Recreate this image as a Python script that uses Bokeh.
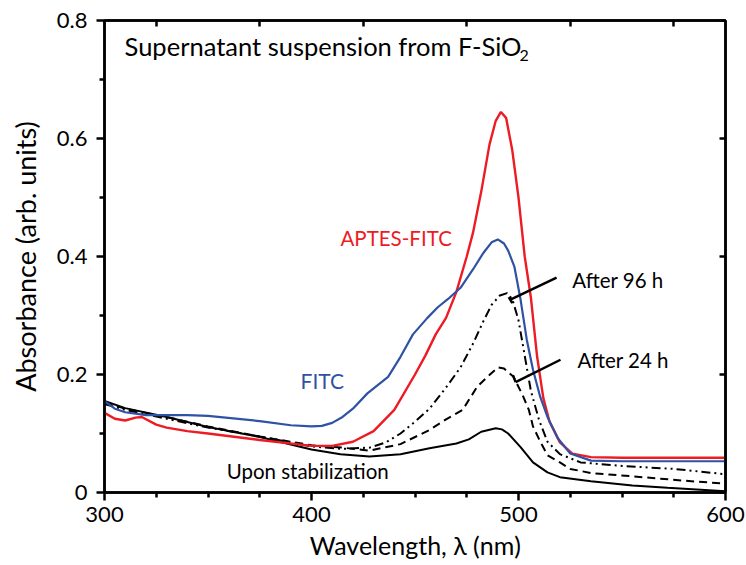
from bokeh.plotting import figure
from bokeh.models import FixedTicker, LinearAxis, Range1d
from bokeh.core.properties import value
from bokeh.embed import file_html
from bokeh.resources import INLINE

# ---------------- data ----------------
red_x = [300, 305, 310, 315, 318, 325, 330, 340, 350, 375, 400, 410, 420, 430, 440, 450,
         455, 460, 465, 470, 475, 478, 482, 486, 489, 491.5, 494, 497, 500, 503, 506,
         509, 512, 515, 520, 526, 535, 550, 575, 600]
red_y = [0.135, 0.125, 0.122, 0.127, 0.128, 0.115, 0.110, 0.104, 0.100, 0.089, 0.079,
         0.079, 0.086, 0.104, 0.140, 0.200, 0.232, 0.268, 0.296, 0.340, 0.400, 0.440,
         0.510, 0.590, 0.630, 0.645, 0.635, 0.580, 0.500, 0.400, 0.330, 0.230, 0.160,
         0.120, 0.085, 0.066, 0.060, 0.059, 0.059, 0.059]

blue_x = [300, 305, 310, 320, 340, 350, 375, 390, 400, 405, 410, 415, 420, 427, 437, 443,
          449, 456, 461, 466, 472, 478, 483, 487, 490, 493, 495, 498, 501, 502.5, 504,
          507, 510.5, 514, 519, 525, 535, 550, 575, 600]
blue_y = [0.155, 0.142, 0.136, 0.131, 0.131, 0.130, 0.121, 0.114, 0.112, 0.113, 0.118,
          0.128, 0.142, 0.168, 0.196, 0.230, 0.268, 0.296, 0.314, 0.328, 0.347, 0.378,
          0.406, 0.424, 0.429, 0.422, 0.410, 0.383, 0.327, 0.293, 0.259, 0.208, 0.162,
          0.128, 0.092, 0.066, 0.054, 0.053, 0.053, 0.053]

stab_x = [300, 310, 330, 350, 375, 400, 414, 428, 443, 457, 470, 476, 482, 489, 492, 495,
          501, 507, 514, 520, 535, 555, 572, 600]
stab_y = [0.155, 0.143, 0.128, 0.111, 0.094, 0.073, 0.065, 0.061, 0.065, 0.075, 0.083,
          0.090, 0.103, 0.109, 0.107, 0.100, 0.077, 0.051, 0.034, 0.026, 0.019, 0.012,
          0.008, 0.002]

h24_x = [300, 310, 330, 350, 375, 400, 415, 428, 443, 457, 465, 473, 480, 485, 490, 493,
         497.6, 502, 505, 507, 510, 514, 520, 525, 535, 560, 580, 600]
h24_y = [0.153, 0.142, 0.128, 0.112, 0.095, 0.080, 0.076, 0.071, 0.082, 0.106, 0.124,
         0.140, 0.179, 0.196, 0.212, 0.210, 0.196, 0.165, 0.140, 0.112, 0.090, 0.063,
         0.051, 0.040, 0.033, 0.026, 0.020, 0.015]

h96_x = [300, 310, 330, 350, 375, 400, 415, 428, 436, 443, 450, 457, 465, 472, 478, 483,
         487, 491, 494.5, 497, 500, 503, 506, 510, 514, 520, 530, 550, 575, 600]
h96_y = [0.150, 0.140, 0.125, 0.110, 0.095, 0.078, 0.074, 0.076, 0.085, 0.100, 0.120,
         0.142, 0.178, 0.212, 0.252, 0.290, 0.318, 0.334, 0.338, 0.328, 0.292, 0.232,
         0.172, 0.122, 0.086, 0.065, 0.051, 0.045, 0.040, 0.031]

x_major = [300, 400, 500, 600]
x_minor = [325, 350, 375, 425, 450, 475, 525, 550, 575]
x_top_ticks = [325, 375, 425, 475, 525, 575]
y_major = [0, 0.2, 0.4, 0.6, 0.8]
y_minor = [0.1, 0.3, 0.5, 0.7]
y_labels = ["0", "0.2", "0.4", "0.6", "0.8"]

RED = "#ED1C24"
BLUE = "#2F52A4"
FONT = "Lato"

p = figure(width=746, height=565, output_backend="svg", toolbar_location=None,
           x_range=Range1d(300, 600), y_range=Range1d(0, 0.8),
           min_border_left=104, min_border_right=21, min_border_top=20,
           min_border_bottom=73)
p.grid.visible = False
p.background_fill_color = "white"
p.border_fill_color = "white"
p.outline_line_color = "black"
p.outline_line_width = 2.5

xa = p.xaxis[0]
xa.ticker = FixedTicker(ticks=x_major, minor_ticks=x_minor)
xa.axis_label = "Wavelength, λ (nm)"
ya = p.yaxis[0]
ya.ticker = FixedTicker(ticks=y_major, minor_ticks=y_minor)
ya.major_label_overrides = {t: l for t, l in zip(y_major, y_labels)}
ya.axis_label = "Absorbance (arb. units)"
for ax in (xa, ya):
    ax.axis_line_width = 2.5
    ax.axis_line_color = "black"
    ax.major_tick_line_width = 2.5
    ax.minor_tick_line_width = 2.5
    ax.major_tick_in = 0
    ax.major_tick_out = 8
    ax.minor_tick_in = 0
    ax.minor_tick_out = 5
    ax.major_label_text_font = FONT
    ax.major_label_text_font_size = "22px"
    ax.major_label_text_color = "black"
    ax.axis_label_text_font = FONT
    ax.axis_label_text_font_style = "normal"
    ax.axis_label_text_color = "black"
xa.axis_label_text_font_size = "25px"
ya.axis_label_text_font_size = "27px"
xa.major_label_standoff = 6
xa.axis_label_standoff = 5
xa.major_label_text_line_height = 1.0
xa.axis_label_text_line_height = 1.0
ya.major_label_standoff = 9
ya.axis_label_standoff = 12

# top and right axes: inward ticks, blank labels
top = LinearAxis(ticker=FixedTicker(ticks=x_top_ticks, minor_ticks=[]),
                 major_label_overrides={t: "" for t in x_top_ticks},
                 axis_line_width=2.5,
                 major_tick_in=6, major_tick_out=0, major_tick_line_width=2.5,
                 minor_tick_in=0, minor_tick_out=0, major_label_standoff=0)
right = LinearAxis(ticker=FixedTicker(ticks=y_major, minor_ticks=[]),
                   major_label_overrides={t: "" for t in y_major},
                   axis_line_width=2.5,
                   major_tick_in=6, major_tick_out=0, major_tick_line_width=2.5,
                   minor_tick_in=0, minor_tick_out=0, major_label_standoff=0)
p.add_layout(top, "above")
p.add_layout(right, "right")

# curves
p.line(stab_x, stab_y, color="black", line_width=2)
p.line(h24_x, h24_y, color="black", line_width=2, line_dash="8 5")
p.line(h96_x, h96_y, color="black", line_width=2, line_dash="9 4 2 4 2 4")
p.line(red_x, red_y, color=RED, line_width=2.4)
p.line(blue_x, blue_y, color=BLUE, line_width=2.2)

# leader lines for annotations
p.segment(x0=[496.1, 498.6], y0=[0.327, 0.187], x1=[518.4, 520.3], y1=[0.364, 0.225],
          color="black", line_width=2.5)
p.segment(x0=[495.3, 497.3], y0=[0.331, 0.199], x1=[497.0, 498.6], y1=[0.321, 0.187],
          color="black", line_width=2.5)

def txt(x, y, s, color="black", size="20px"):
    p.text(x=[x], y=[y], text=[s], text_color=color, text_font=value(FONT),
           text_font_size=size, text_align="left", text_baseline="middle")

txt(309.7, 0.756, "Supernatant suspension from F-SiO", size="25.5px")
txt(500.5, 0.741, "2", size="16px")
txt(414.0, 0.432, "APTES-FITC", color=RED, size="20.5px")
txt(394.7, 0.189, "FITC", color=BLUE, size="21px")
txt(526.0, 0.361, "After 96 h", size="20.5px")
txt(528.5, 0.225, "After 24 h", size="20.5px")
txt(359.0, 0.037, "Upon stabilization", size="20.5px")

open("out.html", "w").write(file_html(p, INLINE))
